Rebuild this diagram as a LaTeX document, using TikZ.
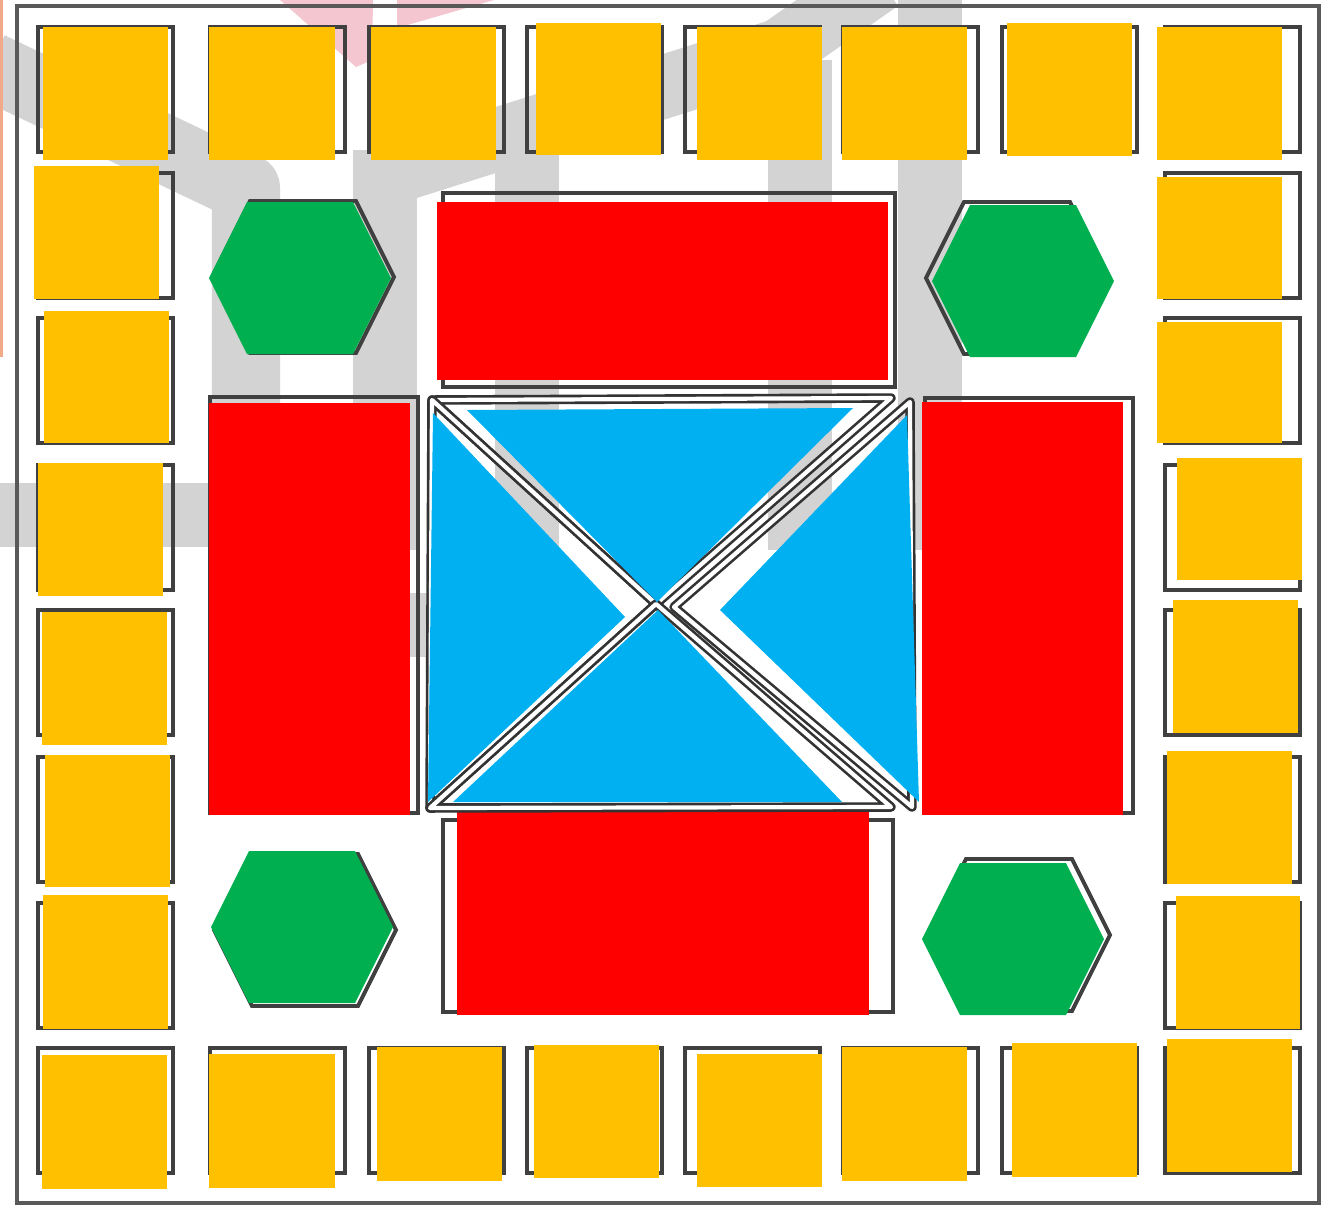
\documentclass[tikz,border=0pt]{standalone}
\usepackage{tikz}
\usepackage{xcolor}
\definecolor{tileyellow}{HTML}{FFC000}
\definecolor{roomred}{HTML}{FF0000}
\definecolor{hexgreen}{HTML}{00B050}
\definecolor{centreblue}{HTML}{00B0F0}
\definecolor{markgray}{HTML}{D3D3D3}
\definecolor{markpink}{HTML}{F4C6CF}
\definecolor{edgeorange}{HTML}{F2A987}

\begin{document}
\begin{tikzpicture}[x=0.01cm, y=-0.01cm,
  wmband/.style={draw=markgray, line width=6.3mm, line join=round},
  cellbox/.style={draw=black!75, line width=1.1pt},
  dbl/.style={draw=black!80, double=white, double distance=1.2pt, line width=0.75pt, line join=round}]
  \useasboundingbox (0,0) rectangle (1326,1205);

  \draw[wmband, line width=6.8mm] (-10,66) -- (246,188) -- (246,550);
  \draw[wmband] (385,150) -- (385,550);
  \draw[wmband] (385,175) -- (780,50) -- (880,-20);
  \draw[wmband] (527,110) -- (527,550);
  \draw[wmband] (800,60) -- (800,550);
  \draw[wmband] (930,-10) -- (930,550);
  \draw[wmband] (-10,515) -- (246,515);
  \draw[wmband] (380,625) -- (440,625);
  \fill[markpink] (280,0) -- (373,0) -- (372,60) -- (356,67) -- cycle;
  \fill[markpink] (397,0) -- (494,0) -- (397,28) -- cycle;
  \draw[edgeorange, line width=0.9pt] (1.5,0) -- (1.5,357);

  \draw[black!65, line width=0.9pt] (17,6) rectangle (1319,1203);

  \foreach \xa in {38,210,369,527,685,843,1002,1165} {
    \draw[cellbox] (\xa,27) rectangle +(135,125);
    \draw[cellbox] (\xa,1048) rectangle +(135,125);
  }
  \foreach \ya in {173,318,465,610,757,903} {
    \draw[cellbox] (38,\ya) rectangle +(135,125);
    \draw[cellbox] (1165,\ya) rectangle +(135,125);
  }
  \foreach \xa/\ya/\xb/\yb in {43/27/168/160, 209/27/335/160, 371/27/496/160, 536/23/661/155,
      697/27/822/160, 842/27/967/160, 1007/23/1132/156, 1157/27/1282/160,
      34/166/159/299, 44/311/169/443, 38/463/163/596, 42/612/167/745, 45/755/170/887, 43/895/168/1029,
      42/1055/167/1189, 209/1054/335/1188, 377/1047/502/1181, 534/1045/659/1178,
      697/1054/822/1187, 842/1047/967/1181, 1012/1043/1137/1177, 1167/1039/1292/1172,
      1157/177/1282/299, 1157/322/1282/443, 1177/458/1302/580, 1173/600/1298/733,
      1167/751/1292/884, 1176/896/1300/1029}
    \fill[tileyellow] (\xa,\ya) rectangle (\xb,\yb);

  \foreach \xa/\ya/\xb/\yb in {443/193/895/387, 210/397/418/813, 925/398/1133/813, 443/820/893/1012}
    \draw[cellbox] (\xa,\ya) rectangle (\xb,\yb);
  \foreach \xa/\ya/\xb/\yb in {437/202/888/380, 209/403/410/815, 922/402/1123/815, 457/812/869/1015}
    \fill[roomred] (\xa,\ya) rectangle (\xb,\yb);

  \foreach \cx/\cy/\ox/\oy in {300/278/3/-1, 1023/281/-6/-3, 302/927/3/3, 1013/939/6/-4} {
    \draw[cellbox, shift={(\cx+\ox,\cy+\oy)}] (-53,-76) -- (53,-76) -- (91,0) -- (53,76) -- (-53,76) -- (-91,0) -- cycle;
    \fill[hexgreen, shift={(\cx,\cy)}] (-53,-76) -- (53,-76) -- (91,0) -- (53,76) -- (-53,76) -- (-91,0) -- cycle;
  }

  \draw[dbl] (432,400) -- (891,398) -- (656,604) -- cycle;
  \draw[dbl] (432,400) -- (656,604) -- (430,808) -- cycle;
  \draw[dbl] (430,808) -- (656,604) -- (891,807) -- cycle;
  \draw[dbl] (910,402) -- (674,607) -- (912,807) -- cycle;
  \fill[centreblue] (467,410) -- (853,408) -- (657,602) -- cycle;
  \fill[centreblue] (433,413) -- (625,617) -- (428,802) -- cycle;
  \fill[centreblue] (907,415) -- (720,610) -- (919,802) -- cycle;
  \fill[centreblue] (453,802) -- (658,610) -- (842,802) -- cycle;
\end{tikzpicture}
\end{document}
